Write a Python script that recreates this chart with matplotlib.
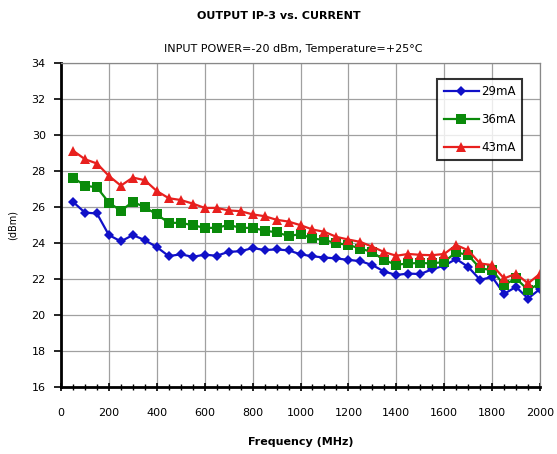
import matplotlib
matplotlib.use("Agg")
import matplotlib.pyplot as plt
from matplotlib.ticker import MultipleLocator

freq_mhz = list(range(50, 2001, 50))

ip3_29ma = [26.3, 25.7, 25.65, 24.45, 24.1, 24.45, 24.17, 23.78, 23.28, 23.38,
            23.24, 23.36, 23.3, 23.52, 23.55, 23.73, 23.62, 23.65, 23.6, 23.38,
            23.27, 23.2, 23.15, 23.07, 23.0, 22.78, 22.42, 22.23, 22.31, 22.28,
            22.55, 22.75, 23.12, 22.68, 21.96, 22.12, 21.18, 21.57, 20.92, 21.45]

ip3_36ma = [27.65, 27.2, 27.1, 26.26, 25.8, 26.3, 26.0, 25.6, 25.13, 25.13,
            25.0, 24.85, 24.85, 25.02, 24.85, 24.85, 24.7, 24.6, 24.4, 24.5,
            24.26, 24.17, 24.0, 23.9, 23.7, 23.5, 23.05, 22.8, 22.87, 22.9,
            22.87, 22.96, 23.5, 23.33, 22.6, 22.5, 21.67, 22.04, 21.4, 21.76]

ip3_43ma = [29.15, 28.67, 28.43, 27.74, 27.2, 27.65, 27.5, 26.9, 26.5, 26.4,
            26.2, 25.96, 25.96, 25.82, 25.78, 25.6, 25.5, 25.3, 25.2, 25.0,
            24.76, 24.63, 24.35, 24.2, 24.07, 23.8, 23.5, 23.3, 23.4, 23.35,
            23.33, 23.4, 23.9, 23.6, 22.87, 22.78, 22.04, 22.3, 21.76, 22.3]

series = [
    ("29mA", ip3_29ma, "#1010c8", "D", 5.5),
    ("36mA", ip3_36ma, "#0a8a0a", "s", 6.5),
    ("43mA", ip3_43ma, "#e8201e", "^", 7.0),
]

fig = plt.figure(figsize=(5.57, 4.54), dpi=100)
ax = fig.add_axes([0.1095, 0.1476, 0.86, 0.7128])

for label, vals, color, marker, ms in series:
    ax.plot(freq_mhz, vals, color=color, marker=marker, markersize=ms,
            linewidth=1.6, label=label, markeredgewidth=0)

ax.set_xlim(0, 2000)
ax.set_ylim(16, 34)
ax.xaxis.set_major_locator(MultipleLocator(200))
ax.xaxis.set_minor_locator(MultipleLocator(50))
ax.yaxis.set_major_locator(MultipleLocator(2))

ax.grid(True, which="major", color="#a0a0a0", linewidth=0.9)
ax.set_axisbelow(True)

for side in ("top", "right"):
    ax.spines[side].set_color("#888888")
    ax.spines[side].set_linewidth(0.9)
for side in ("left", "bottom"):
    ax.spines[side].set_color("black")
    ax.spines[side].set_linewidth(2.0)

ax.tick_params(axis="both", which="major", labelsize=8, length=4, width=1.2,
               color="black", pad=4)
ax.tick_params(axis="x", which="major", direction="inout", length=6, pad=12)
ax.tick_params(axis="x", which="minor", direction="inout", length=4, width=1.0)
ax.tick_params(axis="y", which="major", direction="out", length=5, pad=6)

ax.set_xlabel("Frequency (MHz)", fontsize=8, fontweight="bold", labelpad=14)
ax.set_ylabel("(dBm)", fontsize=7, labelpad=10)

fig.text(0.5, 0.965, "OUTPUT IP-3 vs. CURRENT", ha="center", va="center",
         fontsize=8, fontweight="bold")
fig.text(0.527, 0.893, "INPUT POWER=-20 dBm, Temperature=+25\u00b0C",
         ha="center", va="center", fontsize=8)

leg = ax.legend(loc="upper right", bbox_to_anchor=(0.963, 0.952), fontsize=8.5,
                frameon=True, fancybox=False, handlelength=3.0,
                borderpad=0.55, labelspacing=1.25, handletextpad=0.2,
                borderaxespad=0.0)
leg.get_frame().set_edgecolor("black")
leg.get_frame().set_linewidth(1.5)

fig.savefig("out.png", dpi=100)
